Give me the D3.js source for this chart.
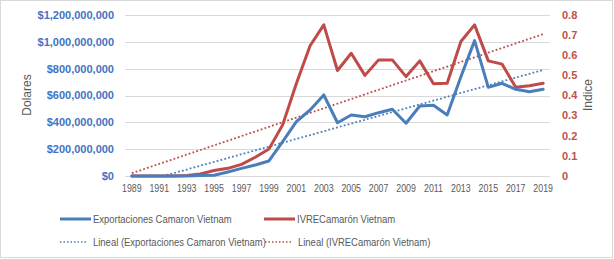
<!DOCTYPE html>
<html>
<head>
<meta charset="utf-8">
<script src="https://cdn.jsdelivr.net/npm/d3@7"></script>
<style>
  body { margin: 0; background: #fff; }
  text { font-family: "Liberation Sans", Arial, sans-serif; }
</style>
</head>
<body>
<svg id="chart" width="614" height="259"></svg>
<script>
// Years on the x axis
const years = d3.range(1989, 2020).map(String);

// Exportaciones Camaron Vietnam (USD)
const exportaciones = [0, 0, 0, 0, 0, 3e6, 5e6, 30e6, 57e6, 82e6, 112e6, 256e6, 405e6, 492e6, 604e6,
    397e6, 455e6, 442e6, 472e6, 497e6, 393e6, 522e6, 527e6, 455e6, 740e6, 1009e6, 661e6, 691e6, 646e6, 628e6, 646e6];

// IVRECamarón Vietnam (indice)
const ivre = [0, 0, 0, 0, 0.002, 0.01, 0.027, 0.038, 0.058, 0.093, 0.134, 0.254, 0.46, 0.647, 0.751,
    0.524, 0.61, 0.50, 0.577, 0.577, 0.494, 0.572, 0.458, 0.461, 0.668, 0.751, 0.572, 0.556, 0.441, 0.448, 0.461];

const leftTicks = [0, 200e6, 400e6, 600e6, 800e6, 1000e6, 1200e6];
const rightTicks = [0, 0.1, 0.2, 0.3, 0.4, 0.5, 0.6, 0.7, 0.8];

const blue = "#4a7ebb";
const red = "#be4b48";

const svg = d3.select("#chart");

// squeeze Arial-like text to a Calibri-like width
function narrow(sel, k) {
    sel.each(function() {
        const w = this.getComputedTextLength();
        d3.select(this)
            .attr("textLength", w * k)
            .attr("lengthAdjust", "spacingAndGlyphs");
    });
}

// chart border
svg.append("rect")
    .attr("x", 0.5).attr("y", 0.5)
    .attr("width", 612).attr("height", 257)
    .attr("fill", "#fff")
    .attr("stroke", "#d9d9d9");

const plot = { left: 125, right: 550, top: 15, bottom: 176 };

const x = d3.scalePoint()
    .domain(years)
    .range([plot.left, plot.right])
    .padding(0.5);

const yLeft = d3.scaleLinear().domain([0, 1200e6]).range([plot.bottom, plot.top]);
const yRight = d3.scaleLinear().domain([0, 0.8]).range([plot.bottom, plot.top]);

// gridlines
svg.append("g")
    .selectAll("line")
    .data(leftTicks)
    .join("line")
    .attr("x1", plot.left).attr("x2", plot.right)
    .attr("y1", d => Math.round(yLeft(d)) + 0.5)
    .attr("y2", d => Math.round(yLeft(d)) + 0.5)
    .attr("stroke", "#d9d9d9")
    .attr("stroke-width", 1);

// left axis labels
const fmt = d => "$" + d3.format(",")(d);
svg.append("g")
    .selectAll("text")
    .data(leftTicks)
    .join("text")
    .attr("x", 114)
    .attr("y", d => yLeft(d))
    .attr("dy", "0.35em")
    .attr("text-anchor", "end")
    .attr("font-size", 11)
    .attr("font-weight", "bold")
    .attr("fill", "#4472c4")
    .text(fmt);

// right axis labels
svg.append("g")
    .selectAll("text")
    .data(rightTicks)
    .join("text")
    .attr("x", 562)
    .attr("y", d => yRight(d))
    .attr("dy", "0.35em")
    .attr("text-anchor", "start")
    .attr("font-size", 11)
    .attr("font-weight", "bold")
    .attr("fill", "#c0504d")
    .text(d => d3.format("")(+d.toFixed(1)));

// x axis labels (every other year)
svg.append("g")
    .selectAll("text")
    .data(years.filter((d, i) => i % 2 === 0))
    .join("text")
    .attr("x", d => x(d))
    .attr("y", 192)
    .attr("text-anchor", "middle")
    .attr("font-size", 11)
    .attr("fill", "#595959")
    .text(d => d)
    .call(narrow, 0.8);

// axis titles
svg.append("text")
    .attr("transform", "translate(31,95) rotate(-90)")
    .attr("text-anchor", "middle")
    .attr("font-size", 12)
    .attr("fill", "#595959")
    .text("Dolares");

svg.append("text")
    .attr("transform", "translate(592,95) rotate(-90)")
    .attr("text-anchor", "middle")
    .attr("font-size", 12)
    .attr("fill", "#595959")
    .text("Indice");

// clip for trendlines
svg.append("clipPath").attr("id", "plotClip")
    .append("rect")
    .attr("x", plot.left).attr("y", plot.top)
    .attr("width", plot.right - plot.left)
    .attr("height", plot.bottom - plot.top + 1);

// least squares line over the index of the year
function linearFit(values) {
    const n = values.length;
    const xs = d3.range(1, n + 1);
    const mx = d3.mean(xs), my = d3.mean(values);
    let num = 0, den = 0;
    xs.forEach((xi, i) => { num += (xi - mx) * (values[i] - my); den += (xi - mx) * (xi - mx); });
    const slope = num / den;
    const icpt = my - slope * mx;
    return xs.map(xi => icpt + slope * xi);
}

const trendExp = linearFit(exportaciones);
const trendIvre = linearFit(ivre);

const lineLeft = d3.line().x((d, i) => x(years[i])).y(d => yLeft(d));
const lineRight = d3.line().x((d, i) => x(years[i])).y(d => yRight(d));

const tg = svg.append("g").attr("clip-path", "url(#plotClip)");

tg.append("path")
    .attr("d", lineRight(trendIvre))
    .attr("fill", "none")
    .attr("stroke", red)
    .attr("stroke-width", 1.8)
    .attr("stroke-dasharray", "1.8,2.2");

tg.append("path")
    .attr("d", lineLeft(trendExp))
    .attr("fill", "none")
    .attr("stroke", blue)
    .attr("stroke-width", 1.8)
    .attr("stroke-dasharray", "1.8,2.2");

// main series
svg.append("path")
    .attr("d", lineRight(ivre))
    .attr("fill", "none")
    .attr("stroke", red)
    .attr("stroke-width", 3)
    .attr("stroke-linejoin", "round")
    .attr("stroke-linecap", "round");

svg.append("path")
    .attr("d", lineLeft(exportaciones))
    .attr("fill", "none")
    .attr("stroke", blue)
    .attr("stroke-width", 3)
    .attr("stroke-linejoin", "round")
    .attr("stroke-linecap", "round");

// legend
const legendItems = [
    { label: "Exportaciones Camaron Vietnam", color: blue, dotted: false, x: 60, y: 219 },
    { label: "IVRECamarón Vietnam", color: red, dotted: false, x: 264, y: 219 },
    { label: "Lineal (Exportaciones Camaron Vietnam)", color: blue, dotted: true, x: 60, y: 242 },
    { label: "Lineal (IVRECamarón Vietnam)", color: red, dotted: true, x: 265, y: 242 }
];

const lg = svg.append("g")
    .selectAll("g")
    .data(legendItems)
    .join("g")
    .attr("transform", d => `translate(${d.x},${d.y})`);

lg.append("line")
    .attr("x1", 0).attr("x2", d => d.dotted ? 28 : 31)
    .attr("stroke", d => d.color)
    .attr("stroke-width", d => d.dotted ? 1.5 : 3)
    .attr("stroke-dasharray", d => d.dotted ? "1.5,2" : null);

lg.append("text")
    .attr("x", 33)
    .attr("dy", "0.35em")
    .attr("font-size", 11)
    .attr("fill", "#595959")
    .text(d => d.label)
    .call(narrow, 0.86);
</script>
</body>
</html>
